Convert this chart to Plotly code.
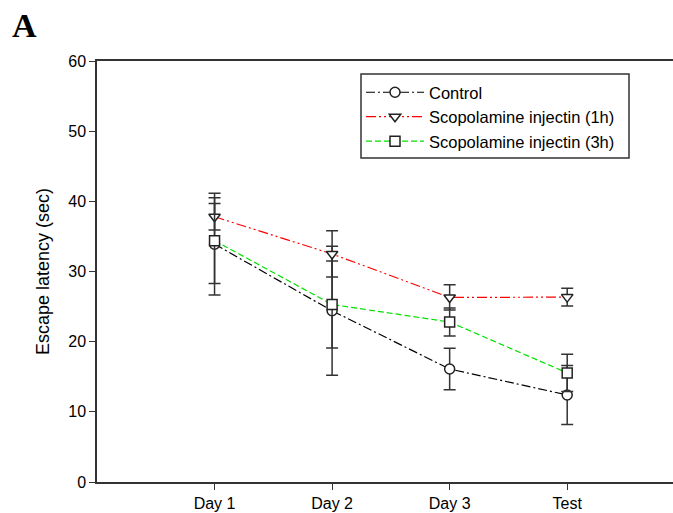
import plotly.graph_objects as go

categories = ["Day 1", "Day 2", "Day 3", "Test"]

control_mean = [33.9, 24.4, 16.1, 12.4]
control_err = [7.25, 9.2, 2.95, 4.2]

scop1h_mean = [37.8, 32.5, 26.3, 26.35]
scop1h_err = [1.9, 3.3, 1.8, 1.25]

scop3h_mean = [34.4, 25.3, 22.8, 15.55]
scop3h_err = [6.1, 6.2, 2.0, 2.65]

series = [
    dict(name="Control", y=control_mean, e=control_err, color="#000000",
         dash="9px,3px,2px,3px", symbol="circle"),
    dict(name="Scopolamine injectin (1h)", y=scop1h_mean, e=scop1h_err, color="#ff0000",
         dash="10px,3px,2px,3px,2px,3px", symbol="triangle-down"),
    dict(name="Scopolamine injectin (3h)", y=scop3h_mean, e=scop3h_err, color="#00e000",
         dash="6px,3px", symbol="square"),
]

FONT = "Liberation Sans, Arial, sans-serif"

fig = go.Figure()
for s in series:
    fig.add_trace(go.Scatter(
        x=categories, y=s["y"], name=s["name"], mode="lines+markers",
        line=dict(color=s["color"], width=1.2, dash=s["dash"]),
        marker=dict(symbol=s["symbol"], size=10, color="white",
                    line=dict(color="#222222", width=1.5)),
        error_y=dict(type="data", array=s["e"], visible=True, color="#333333",
                     thickness=1.5, width=6),
    ))

W, H = 673, 513
L, T, B = 97, 61, 31
pw = W - L
ph = H - T - B


def px_x(x):
    return (x - L) / pw


def px_y(y):
    return 1 - (y - T) / ph


fig.update_layout(
    width=W, height=H,
    margin=dict(l=L, r=0, t=T, b=B, pad=0, autoexpand=False),
    plot_bgcolor="white", paper_bgcolor="white",
    font=dict(family=FONT, size=16, color="#000000"),
    showlegend=True,
    legend=dict(
        x=px_x(361), y=px_y(117), xanchor="left", yanchor="middle",
        borderwidth=0, bgcolor="rgba(0,0,0,0)",
        font=dict(family=FONT, size=16.5, color="#000000"),
        tracegroupgap=0, itemwidth=58,
    ),
    xaxis=dict(
        type="category", categoryorder="array", categoryarray=categories,
        range=[-1, 3.9], showline=True, linecolor="#333333", linewidth=1.5,
        mirror=True, ticks="outside", ticklen=6, tickcolor="#333333",
        showgrid=False, zeroline=False, tickfont=dict(size=16),
    ),
    yaxis=dict(
        range=[0, 60], dtick=10, showline=True, linecolor="#333333", linewidth=1.5,
        ticks="outside", ticklen=6, tickcolor="#333333", showgrid=False,
        zeroline=False, tickfont=dict(size=16),
        title=dict(text="Escape latency (sec)", font=dict(size=18), standoff=14),
    ),
    shapes=[dict(
        type="rect", xref="paper", yref="paper",
        x0=px_x(361), x1=px_x(629), y0=px_y(158), y1=px_y(74),
        line=dict(color="#333333", width=1.5), fillcolor="white", layer="above",
    )],
    annotations=[dict(
        text="<b>A</b>", xref="paper", yref="paper",
        x=px_x(10), y=px_y(5), xanchor="left", yanchor="top",
        showarrow=False, font=dict(family="Liberation Serif, Times New Roman, serif", size=34, color="#000000"),
    )],
)

fig.write_html(
    "out.html",
    config={"displayModeBar": False},
    post_script="document.body.style.margin='0';document.body.style.overflow='hidden';",
)
